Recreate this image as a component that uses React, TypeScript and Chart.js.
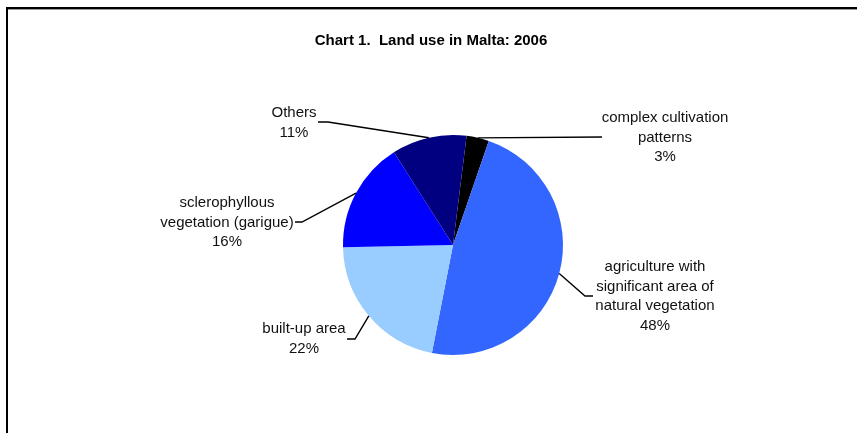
import React, { useEffect, useRef } from "react";
import { Chart, registerables } from "chart.js";

Chart.register(...registerables);

const titleText = "Chart 1.  Land use in Malta: 2006";
const categories = [
  "complex cultivation patterns",
  "agriculture with significant area of natural vegetation",
  "built-up area",
  "sclerophyllous vegetation (garigue)",
  "Others",
];
const categoryLines = [
  ["complex cultivation", "patterns"],
  ["agriculture with", "significant area of", "natural vegetation"],
  ["built-up area"],
  ["sclerophyllous", "vegetation (garigue)"],
  ["Others"],
];
const values = [3.3, 47.8, 21.6, 16.3, 11.0];
const percentLabels = ["3%", "48%", "22%", "16%", "11%"];
const sliceColors = ["#000000", "#3366FF", "#99CCFF", "#0000FF", "#000080"];

// label layout relative to pie centre (pixels): text centre/first line middle, leader elbow and end
const labelLayout = [
  { tx: 212, ty: -127, elbow: null as null | number[], end: [149, -108] },
  { tx: 202, ty: 22, elbow: [132, 51], end: [140, 51] },
  { tx: -149, ty: 84, elbow: [-98, 94], end: [-106, 94] },
  { tx: -226, ty: -42, elbow: [-151, -23], end: [-158, -23] },
  { tx: -159, ty: -132, elbow: [-125, -123], end: [-135, -123] },
];

const FONT = "'Liberation Sans', Arial, Helvetica, sans-serif";

const labelPlugin = {
  id: "leaderLabels",
  afterDraw(chart: any) {
    const ctx = chart.ctx;
    const meta = chart.getDatasetMeta(0);
    ctx.save();
    // title
    ctx.fillStyle = "#000";
    ctx.font = `bold 15px ${FONT}`;
    ctx.textAlign = "center";
    ctx.textBaseline = "middle";
    ctx.fillText(titleText, 431, 41);

    meta.data.forEach((arc: any, i: number) => {
      const p = arc.getProps(["x", "y", "startAngle", "endAngle", "outerRadius"], true);
      const cx = p.x;
      const cy = p.y;
      const mid = (p.startAngle + p.endAngle) / 2;
      const ax = cx + Math.cos(mid) * p.outerRadius;
      const ay = cy + Math.sin(mid) * p.outerRadius;
      const L = labelLayout[i];
      ctx.strokeStyle = "#000";
      ctx.lineWidth = 1.4;
      ctx.beginPath();
      ctx.moveTo(ax, ay);
      if (L.elbow) ctx.lineTo(cx + L.elbow[0], cy + L.elbow[1]);
      ctx.lineTo(cx + L.end[0], cy + L.end[1]);
      ctx.stroke();

      const lines = [...categoryLines[i], percentLabels[i]];
      ctx.fillStyle = "#111";
      ctx.font = `15px ${FONT}`;
      ctx.textAlign = "center";
      ctx.textBaseline = "middle";
      lines.forEach((t, k) => {
        ctx.fillText(t, cx + L.tx, cy + L.ty + k * 19.5);
      });
    });
    ctx.restore();
  },
};

export default function App() {
  const ref = useRef<HTMLCanvasElement>(null);
  useEffect(() => {
    if (!ref.current) return;
    const chart = new Chart(ref.current, {
      type: "pie",
      data: {
        labels: categories,
        datasets: [
          {
            data: values,
            backgroundColor: sliceColors,
            borderWidth: 0,
          },
        ],
      },
      options: {
        responsive: false,
        animation: false,
        rotation: 7.1,
        layout: { padding: { left: 343, right: 294, top: 135, bottom: 78 } },
        plugins: {
          legend: { display: false },
          tooltip: { enabled: false },
          title: { display: false },
        },
      },
      plugins: [labelPlugin],
    });
    return () => chart.destroy();
  }, []);

  return (
    <div style={{ position: "absolute", left: 0, top: 0, width: 857, height: 433, overflow: "hidden", background: "#fff" }}>
      <div
        style={{
          position: "absolute",
          left: 6,
          top: 7,
          width: 900,
          height: 500,
          borderTop: "2px solid #000",
          borderLeft: "2px solid #000",
        }}
      />
      <div style={{ position: "absolute", left: 8, top: 9, width: 900, height: 1, background: "#999" }} />
      <canvas ref={ref} width={857} height={433} style={{ position: "absolute", left: 0, top: 0 }} />
    </div>
  );
}
